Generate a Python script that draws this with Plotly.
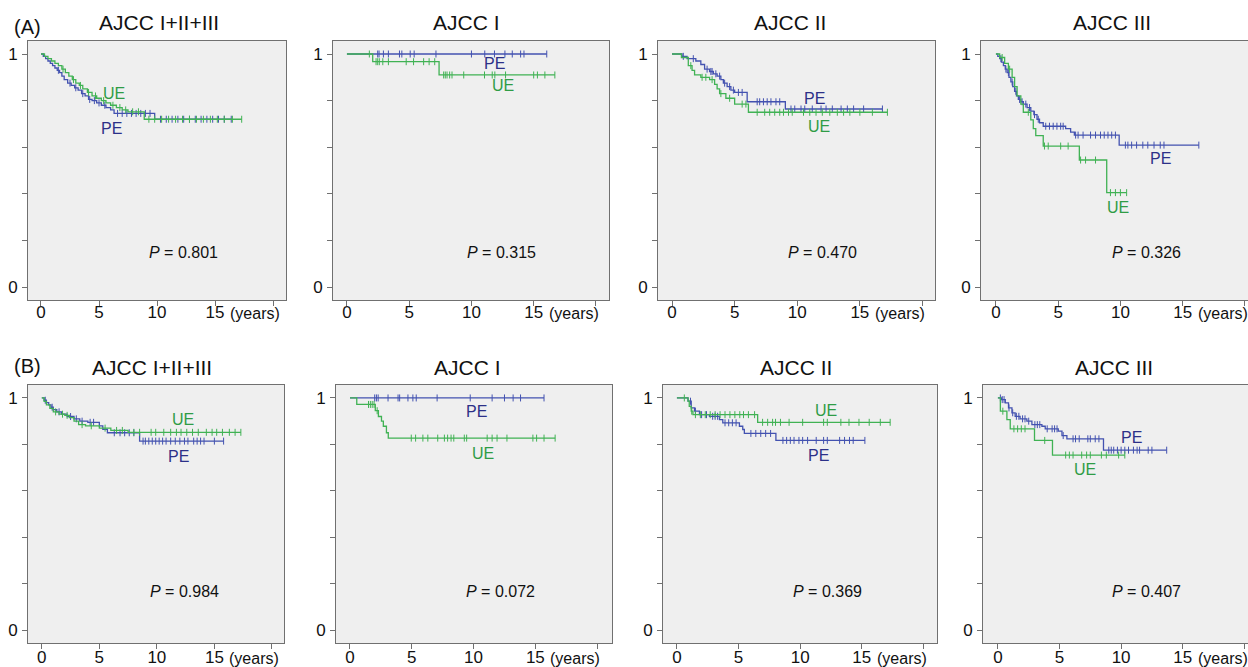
import numpy as np
import plotly.graph_objects as go

# ---------------- DATA ----------------
# Panel A1: (A) AJCC I+II+III
A1_PE_T = [0.2, 0.4, 0.6, 0.8, 1.0, 1.2, 1.4, 1.6, 1.8, 2.0, 2.3, 2.6, 2.9, 3.2, 3.5, 3.8, 4.1, 4.4, 4.8, 5.2, 5.6, 6.0, 6.3, 9.8]
A1_PE_S = [0.99, 0.98, 0.97, 0.96, 0.95, 0.94, 0.93, 0.92, 0.905, 0.89, 0.875, 0.865, 0.855, 0.845, 0.83, 0.82, 0.805, 0.80, 0.79, 0.78, 0.77, 0.76, 0.745, 0.72]
A1_PE_C = [1.5, 2.5, 3.0, 3.6, 4.2, 4.6, 5.0, 5.5, 6.6, 7.0, 7.4, 7.8, 8.2, 8.6, 9.0, 9.4, 10.3, 10.8, 11.3, 11.8, 12.3, 12.8, 13.3, 13.8, 14.3, 14.8, 15.3, 15.8, 16.4]
A1_UE_T = [0.3, 0.6, 0.9, 1.2, 1.5, 1.8, 2.1, 2.4, 2.7, 3.0, 3.3, 3.6, 4.0, 4.4, 4.8, 5.2, 5.6, 6.0, 6.5, 7.0, 7.5, 8.9]
A1_UE_S = [0.99, 0.98, 0.97, 0.96, 0.95, 0.935, 0.92, 0.905, 0.89, 0.875, 0.865, 0.85, 0.835, 0.82, 0.81, 0.80, 0.79, 0.78, 0.77, 0.76, 0.752, 0.72]
A1_UE_C = [1.9, 2.8, 3.4, 4.1, 4.7, 5.4, 6.2, 6.8, 7.3, 7.9, 8.4, 9.3, 9.8, 10.4, 11.0, 11.6, 12.2, 12.8, 13.4, 14.0, 14.6, 15.2, 15.8, 16.5, 17.3]

# Panel A2: (A) AJCC I
A2_PE_T = []
A2_PE_S = []
A2_PE_C = [2.47, 2.58, 2.93, 3.33, 4.22, 4.41, 5.08, 5.4, 7.15, 10.0, 11.07, 11.85, 12.69, 13.28, 13.95, 14.22, 16.05]
A2_UE_T = [2.07, 7.4]
A2_UE_S = [0.967, 0.91]
A2_UE_C = [1.8, 2.34, 2.47, 2.6, 2.88, 3.33, 4.76, 5.35, 6.16, 6.6, 7.05, 7.77, 7.9, 8.04, 8.25, 8.44, 9.38, 11.05, 11.67, 11.88, 12.74, 15.0, 15.3, 15.9, 16.7]

# Panel A3: (A) AJCC II
A3_PE_T = [0.8, 1.2, 1.9, 2.3, 2.6, 3.0, 3.3, 3.6, 3.9, 4.1, 4.4, 4.7, 5.0, 6.0, 9.05]
A3_PE_S = [0.99, 0.98, 0.97, 0.955, 0.935, 0.925, 0.915, 0.905, 0.89, 0.875, 0.86, 0.845, 0.835, 0.795, 0.764]
A3_PE_C = [0.9, 1.7, 2.8, 3.1, 3.2, 3.5, 3.8, 4.2, 4.6, 4.9, 5.3, 5.6, 6.8, 7.0, 7.3, 7.6, 7.9, 8.3, 8.6, 9.5, 9.8, 10.3, 10.6, 11.2, 11.9, 12.3, 12.8, 13.5, 14.0, 14.5, 15.3, 16.8]
A3_UE_T = [0.75, 1.3, 1.6, 1.8, 2.3, 3.0, 3.4, 3.6, 3.8, 4.3, 5.0, 6.1]
A3_UE_S = [0.985, 0.95, 0.93, 0.91, 0.90, 0.89, 0.87, 0.85, 0.83, 0.81, 0.785, 0.75]
A3_UE_C = [1.5, 2.4, 2.7, 3.2, 3.9, 4.6, 5.6, 5.9, 6.8, 7.4, 7.8, 8.2, 8.6, 8.9, 9.3, 9.6, 10.5, 11.0, 11.5, 12.0, 12.6, 13.2, 13.7, 14.2, 15.0, 16.0, 17.2]

# Panel A4: (A) AJCC III
A4_PE_T = [0.15, 0.3, 0.45, 0.6, 0.75, 0.9, 1.05, 1.2, 1.35, 1.5, 1.65, 1.8, 2.0, 2.2, 2.5, 2.8, 3.05, 3.3, 3.5, 3.8, 5.6, 6.0, 6.3, 9.9]
A4_PE_S = [0.99, 0.98, 0.965, 0.95, 0.935, 0.92, 0.9, 0.88, 0.86, 0.84, 0.82, 0.805, 0.795, 0.785, 0.77, 0.755, 0.74, 0.72, 0.705, 0.69, 0.68, 0.665, 0.652, 0.609]
A4_PE_C = [0.4, 0.8, 1.0, 1.3, 1.6, 1.9, 2.1, 2.4, 2.7, 3.1, 3.4, 4.0, 4.3, 4.6, 4.9, 5.2, 5.4, 6.4, 6.6, 7.0, 7.6, 8.0, 8.4, 8.7, 9.0, 9.3, 9.6, 10.4, 10.6, 10.9, 11.3, 11.8, 12.2, 12.7, 13.2, 13.5, 16.3]
A4_UE_T = [0.3, 0.7, 1.0, 1.3, 1.5, 1.7, 2.0, 2.2, 2.8, 3.0, 3.2, 3.8, 6.7, 8.9]
A4_UE_S = [0.985, 0.96, 0.935, 0.9, 0.86, 0.82, 0.785, 0.75, 0.717, 0.68, 0.65, 0.605, 0.545, 0.405]
A4_UE_C = [0.5, 1.1, 2.6, 3.9, 4.2, 5.2, 5.8, 6.8, 7.2, 8.0, 9.2, 9.6, 10.0, 10.5]

# Panel B1: (B) AJCC I+II+III
B1_PE_T = [0.2, 0.4, 0.6, 0.8, 1.0, 1.3, 1.7, 2.2, 2.8, 3.3, 4.0, 5.0, 5.3, 5.7, 8.5]
B1_PE_S = [0.99, 0.98, 0.97, 0.96, 0.95, 0.94, 0.93, 0.92, 0.91, 0.90, 0.895, 0.88, 0.865, 0.85, 0.814]
B1_PE_C = [0.3, 0.9, 1.5, 2.5, 3.0, 3.5, 4.2, 4.5, 6.3, 6.8, 7.2, 7.6, 8.0, 8.8, 9.0, 9.3, 9.6, 9.9, 10.2, 10.5, 10.8, 11.2, 11.6, 12.0, 12.4, 12.7, 13.2, 13.5, 13.8, 14.1, 15.0, 15.8]
B1_UE_T = [0.2, 0.4, 0.7, 1.0, 1.5, 2.0, 2.4, 2.8, 3.2, 3.8, 5.0, 6.0, 7.5]
B1_UE_S = [0.985, 0.97, 0.955, 0.94, 0.93, 0.925, 0.915, 0.9, 0.885, 0.88, 0.87, 0.86, 0.852]
B1_UE_C = [1.2, 1.8, 2.2, 3.5, 4.3, 5.5, 6.5, 7.0, 8.0, 8.5, 9.5, 9.9, 10.6, 11.2, 11.7, 12.1, 12.6, 13.1, 13.6, 14.3, 14.8, 15.2, 15.7, 16.3, 16.8, 17.3]

# Panel B2: (B) AJCC I
B2_PE_T = []
B2_PE_S = []
B2_PE_C = [2.0, 2.14, 2.28, 3.08, 3.89, 4.02, 4.69, 5.09, 5.36, 7.05, 9.73, 11.5, 12.5, 13.2, 13.8, 15.7]
B2_UE_T = [0.55, 2.05, 2.3, 2.55, 2.7, 2.95, 3.1]
B2_UE_S = [0.972, 0.945, 0.92, 0.9, 0.878, 0.85, 0.827]
B2_UE_C = [1.5, 1.65, 1.8, 1.95, 2.2, 4.96, 5.31, 5.9, 6.3, 7.1, 7.64, 7.9, 8.18, 8.4, 9.25, 9.44, 11.1, 11.5, 11.9, 12.7, 14.8, 15.1, 15.7, 16.6]

# Panel B3: (B) AJCC II
B3_PE_T = [0.9, 1.16, 1.43, 1.83, 2.64, 3.45, 3.72, 5.07, 5.34, 5.47, 8.03]
B3_PE_S = [0.986, 0.957, 0.943, 0.928, 0.921, 0.907, 0.893, 0.878, 0.864, 0.847, 0.817]
B3_PE_C = [1.1, 1.5, 2.0, 2.4, 2.9, 3.1, 3.3, 3.9, 4.2, 4.5, 4.8, 6.0, 6.4, 6.8, 7.2, 7.6, 8.6, 8.9, 9.2, 9.5, 9.9, 10.2, 10.6, 11.3, 11.9, 12.2, 13.2, 13.6, 14.0, 14.3, 15.25]
B3_UE_T = [0.9, 1.0, 1.16, 1.3, 6.55]
B3_UE_S = [0.986, 0.964, 0.943, 0.928, 0.895]
B3_UE_C = [0.6, 1.2, 1.5, 1.9, 2.3, 2.7, 3.1, 3.5, 3.9, 4.3, 4.7, 5.1, 5.4, 5.8, 6.3, 6.95, 7.36, 7.76, 8.0, 8.4, 9.1, 10.2, 11.9, 12.2, 13.3, 13.96, 14.77, 15.6, 16.5, 17.3]

# Panel B4: (B) AJCC III
B4_PE_T = [0.3, 0.6, 0.86, 1.14, 1.4, 1.8, 2.35, 2.76, 3.57, 3.84, 4.9, 5.2, 5.6, 8.57]
B4_PE_S = [0.993, 0.979, 0.957, 0.936, 0.921, 0.91, 0.9, 0.885, 0.878, 0.867, 0.857, 0.838, 0.824, 0.775]
B4_PE_C = [0.2, 0.35, 0.5, 0.9, 1.2, 1.5, 1.7, 2.0, 2.2, 2.5, 3.0, 3.2, 3.4, 4.0, 4.4, 4.6, 4.8, 5.3, 6.1, 6.3, 6.6, 7.3, 7.5, 7.9, 8.2, 9.0, 9.2, 9.4, 9.7, 10.0, 10.3, 10.6, 11.0, 11.3, 11.5, 12.2, 12.5, 13.7]
B4_UE_T = [0.2, 0.73, 1.0, 2.97, 4.43]
B4_UE_S = [0.943, 0.907, 0.867, 0.817, 0.754]
B4_UE_C = [0.4, 1.3, 1.6, 1.9, 2.2, 3.8, 5.5, 5.8, 6.1, 6.8, 7.2, 7.5, 8.4, 8.8, 9.8, 10.3]

TITLES = ["AJCC I+II+III", "AJCC I", "AJCC II", "AJCC III",
          "AJCC I+II+III", "AJCC I", "AJCC II", "AJCC III"]
P_VALUES = ["0.801", "0.315", "0.470", "0.326", "0.984", "0.072", "0.369", "0.407"]
X_TICKS = [0, 5, 10, 15, 20]
X_TICK_TEXT = ["0", "5", "10", "15", ""]
Y_TICKS = [0, 0.2, 0.4, 0.6, 0.8, 1.0]
Y_TICK_TEXT = ["0", "", "", "", "", "1"]
ROW_LABELS = ["(A)", "(B)"]

PANEL_DATA = [
    (A1_PE_T, A1_PE_S, A1_PE_C, A1_UE_T, A1_UE_S, A1_UE_C),
    (A2_PE_T, A2_PE_S, A2_PE_C, A2_UE_T, A2_UE_S, A2_UE_C),
    (A3_PE_T, A3_PE_S, A3_PE_C, A3_UE_T, A3_UE_S, A3_UE_C),
    (A4_PE_T, A4_PE_S, A4_PE_C, A4_UE_T, A4_UE_S, A4_UE_C),
    (B1_PE_T, B1_PE_S, B1_PE_C, B1_UE_T, B1_UE_S, B1_UE_C),
    (B2_PE_T, B2_PE_S, B2_PE_C, B2_UE_T, B2_UE_S, B2_UE_C),
    (B3_PE_T, B3_PE_S, B3_PE_C, B3_UE_T, B3_UE_S, B3_UE_C),
    (B4_PE_T, B4_PE_S, B4_PE_C, B4_UE_T, B4_UE_S, B4_UE_C),
]

# ---------------- LAYOUT / STYLE ----------------
W, H = 1248, 667
FONT = "Liberation Sans, Arial, sans-serif"
PE_LINE, UE_LINE = "#4352b0", "#40b254"
PE_TEXT, UE_TEXT = "#2c3088", "#2f9c46"
BORDER = "#707070"
BG = "#efefef"

# plot boxes in pixels (x0, x1, y0_top, y1_bottom)
BOXES = [
    (28, 286, 41, 300), (333, 609, 41, 300), (658, 935, 41, 300), (981, 1248, 41, 300),
    (28, 284, 385, 643), (336, 612, 385, 643), (663, 937, 385, 643), (983, 1248, 385, 643),
]
X_RANGES = [[-1.12, 21.12], [-1.12, 21.05], [-1.12, 21.0], [-1.2, 20.25],
            [-1.2, 21.05], [-1.13, 21.2], [-1.13, 21.1], [-1.21, 20.3]]
Y_RANGE = [-0.0558, 1.0558]
XLABEL_SHIFT = [-13, -13, -13, -13, -15, -15, -15, -15]
XTICK_STANDOFF = [-8, -8, -8, -8, -6, -6, -6, -6]

# label positions in data coords: (PE x, PE y, UE x, UE y, P x, P y)
LABEL_POS = [
    (6.1, 0.68, 6.3, 0.83, 12.3, 0.15),
    (11.85, 0.96, 12.5, 0.863, 12.4, 0.149),
    (11.4, 0.81, 11.7, 0.687, 12.0, 0.15),
    (13.2, 0.55, 9.8, 0.343, 12.1, 0.15),
    (11.85, 0.748, 12.3, 0.909, 12.4, 0.166),
    (10.26, 0.94, 10.8, 0.76, 12.2, 0.166),
    (11.5, 0.751, 12.1, 0.948, 12.2, 0.166),
    (10.85, 0.831, 7.07, 0.69, 12.06, 0.166),
]
TITLE_PX = [(159, 23), (466, 23), (790, 23), (1112, 23),
            (152, 367), (467, 367), (796, 367), (1114, 367)]
ROW_LABEL_PX = [(27, 27), (27, 366)]


def px_x(p):
    return p / W


def px_y(p):
    return 1 - p / H


def step_path(t, s, c):
    end = max(list(c) + list(t) + [0])
    xs = [0] + list(t) + [end]
    ys = [1.0] + list(s) + [s[-1] if len(s) else 1.0]
    return xs, ys


def surv_at(t, s, times):
    t = np.asarray(t, dtype=float)
    s = np.asarray(s, dtype=float)
    out = []
    for c in times:
        idx = np.searchsorted(t, c, side="right") - 1
        out.append(1.0 if idx < 0 else float(s[idx]))
    return out


fig = go.Figure()
annotations = []

for i, (data, box) in enumerate(zip(PANEL_DATA, BOXES)):
    n = i + 1
    xa = "x" if n == 1 else f"x{n}"
    ya = "y" if n == 1 else f"y{n}"
    pe_t, pe_s, pe_c, ue_t, ue_s, ue_c = data
    for (t, s, c, col) in [(pe_t, pe_s, pe_c, PE_LINE), (ue_t, ue_s, ue_c, UE_LINE)]:
        xs, ys = step_path(t, s, c)
        fig.add_trace(go.Scatter(x=xs, y=ys, mode="lines", line=dict(color=col, width=1.3, shape="hv"),
                                 xaxis=xa, yaxis=ya, showlegend=False, hoverinfo="skip"))
        fig.add_trace(go.Scatter(x=c, y=surv_at(t, s, c), mode="markers",
                                 marker=dict(symbol="line-ns", size=5, color=col,
                                             line=dict(color=col, width=1)),
                                 xaxis=xa, yaxis=ya, showlegend=False, hoverinfo="skip"))

    x0, x1, yt, yb = box
    right_cut = x1 >= W
    axis_common = dict(showline=True, linecolor=BORDER, linewidth=1, ticks="outside", ticklen=5,
                       tickcolor=BORDER, showgrid=False, zeroline=False,
                       tickfont=dict(family=FONT, size=17, color="#111"))
    fig.layout[f"xaxis{'' if n == 1 else n}"] = dict(
        domain=[px_x(x0), min(1.0, px_x(x1))], anchor=ya, range=X_RANGES[i],
        tickmode="array", tickvals=X_TICKS, ticktext=X_TICK_TEXT, mirror=True,
        ticklabelstandoff=XTICK_STANDOFF[i], **axis_common)
    fig.layout[f"yaxis{'' if n == 1 else n}"] = dict(
        domain=[px_y(yb), px_y(yt)], anchor=xa, range=Y_RANGE,
        tickmode="array", tickvals=Y_TICKS, ticktext=Y_TICK_TEXT,
        mirror=(not right_cut), ticklabelstandoff=1, **axis_common)

    pex, pey, uex, uey, px_, py_ = LABEL_POS[i]
    annotations.append(dict(x=pex, y=pey, xref=xa, yref=ya, text="PE", showarrow=False,
                            font=dict(family=FONT, size=16, color=PE_TEXT)))
    annotations.append(dict(x=uex, y=uey, xref=xa, yref=ya, text="UE", showarrow=False,
                            font=dict(family=FONT, size=16, color=UE_TEXT)))
    annotations.append(dict(x=px_, y=py_, xref=xa, yref=ya, text=f"<i>P</i> = {P_VALUES[i]}",
                            showarrow=False, font=dict(family=FONT, size=16, color="#111")))
    annotations.append(dict(x=15, y=0, xref=xa, yref=f"{ya} domain", text="(years)",
                            xanchor="left", yanchor="middle", xshift=13, yshift=XLABEL_SHIFT[i],
                            showarrow=False, font=dict(family=FONT, size=16, color="#111")))
    tx, ty = TITLE_PX[i]
    annotations.append(dict(x=px_x(tx), y=px_y(ty), xref="paper", yref="paper", text=TITLES[i],
                            showarrow=False, xanchor="center", yanchor="middle",
                            font=dict(family=FONT, size=21, color="#111")))

for lbl, (lx, ly) in zip(ROW_LABELS, ROW_LABEL_PX):
    annotations.append(dict(x=px_x(lx), y=px_y(ly), xref="paper", yref="paper", text=lbl,
                            showarrow=False, xanchor="center", yanchor="middle",
                            font=dict(family=FONT, size=20, color="#111")))

fig.update_layout(width=W, height=H, margin=dict(l=0, r=0, t=0, b=0),
                  paper_bgcolor="white", plot_bgcolor=BG, annotations=annotations,
                  showlegend=False)

fig.write_html("out.html", config={"displayModeBar": False},
               post_script="document.body.style.margin='0';document.body.style.overflow='hidden';")
